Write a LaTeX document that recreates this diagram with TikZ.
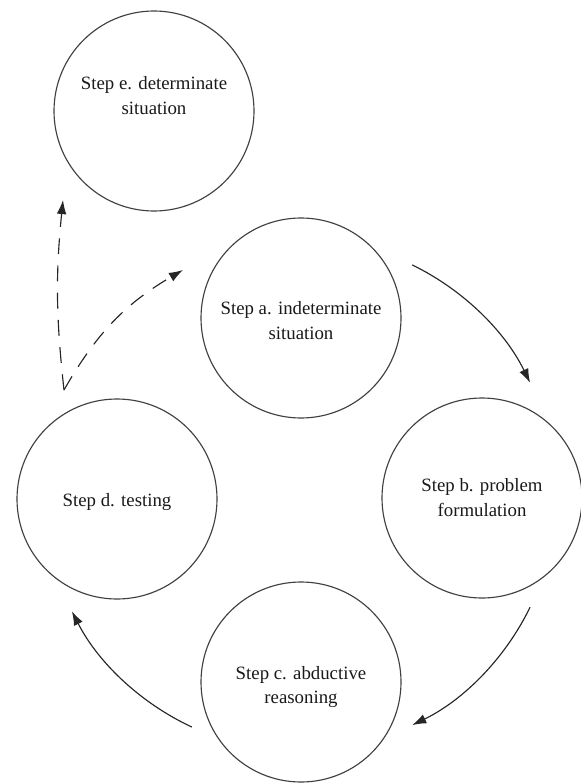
\documentclass[tikz,border=0pt]{standalone}
\usepackage{fontspec}
\setmainfont{Liberation Serif}
\usetikzlibrary{positioning,calc,arrows.meta}

\tikzset{
	stepcircle/.style={circle, draw=black!75, line width=0.65pt, minimum size=4cm, inner sep=0pt},
	steptext/.style={align=center, text=black!90, inner sep=0pt, font=\fontsize{10.7}{14.2}\selectfont},
	flow/.style={draw=black!85, line width=0.65pt, -{Latex[length=8pt,width=5.5pt]}},
	guess/.style={flow, dash pattern=on 9pt off 6.5pt},
}

\begin{document}
\begin{tikzpicture}
	\useasboundingbox (0,0) rectangle (11.6,-15.68);
	
	\node[stepcircle] (a) at (6.02,-6.36) {};
	\node[stepcircle, on grid, below right=3.6cm and 3.62cm of a] (b) {};
	\node[stepcircle, on grid, below=7.28cm of a] (c) {};
	\node[stepcircle, on grid, below left=3.62cm and 3.68cm of a] (d) {};
	\node[stepcircle, on grid, above left=4.14cm and 2.94cm of a] (e) {};
	
	\node[steptext] (e-txt) at ([yshift=3.1mm]e.center) {Step e. determinate\\situation};
	\node[steptext] (a-txt) at ([yshift=-0.5mm]a.center) {Step a. indeterminate\\situation};
	\node[steptext] (b-txt) at (b.center) {Step b. problem\\formulation};
	\node[steptext] (c-txt) at ([yshift=-1mm]c.center) {Step c. abductive\\reasoning};
	\node[steptext] (d-txt) at ([yshift=-0.6mm]d.center) {Step d. testing};
	
	% the cycle a -> b -> c -> d runs round one centre
	\def\R{5.12}
	\coordinate (ctr) at (6.0,-9.9);
	\draw[flow] (ctr) ++(64:\R) arc[start angle=64, end angle=26, radius=\R];
	\draw[flow] (ctr) ++(-26:\R) arc[start angle=-26, end angle=-64, radius=\R];
	\draw[flow] (ctr) ++(-115:\R) arc[start angle=-115, end angle=-153, radius=\R];
	
	% back to a, or out to e
	\coordinate (fork) at (1.28,-7.8);
	\coordinate (to-a) at (3.66,-5.4);
	\coordinate (to-e) at (1.26,-4.0);
	\draw[guess] (fork) to[bend left=15] (to-a);
	\draw[guess] (fork) to[bend left=6] (to-e);
\end{tikzpicture}
\end{document}
